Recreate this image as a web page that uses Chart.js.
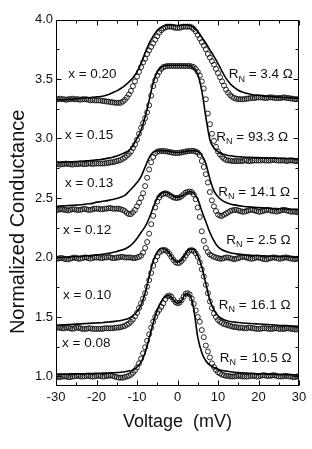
<!DOCTYPE html>
<html>
<head>
<meta charset="utf-8">
<script src="https://cdn.jsdelivr.net/npm/chart.js@4.4.0/dist/chart.umd.min.js"></script>
<style>
  html, body { margin: 0; padding: 0; background: #fff; }
  #wrap { width: 312px; height: 449px; }
</style>
</head>
<body>
<div id="wrap"><canvas id="chart" width="312" height="449"></canvas></div>
<script>
// Voltage grids (mV)
let voltsData = [
  -30, -29.5, -29, -28.5, -28, -27.5, -27, -26.5, -26, -25.5, -25, -24.5, -24, -23.5, -23, -22.5, -22, -21.5, -21, -20.5, -20,
  -19.5, -19, -18.5, -18, -17.5, -17, -16.5, -16, -15.5, -15,
  -14.5, -14, -13.5, -13, -12.5, -12, -11.5, -11, -10.5, -10,
  -9.5, -9, -8.5, -8, -7.5, -7, -6.5, -6, -5.5, -5,
  -4.5, -4, -3.5, -3, -2.5, -2, -1.5, -1, -0.5, 0,
  0.5, 1, 1.5, 2, 2.5, 3, 3.5, 4, 4.5, 5,
  5.5, 6, 6.5, 7, 7.5, 8, 8.5, 9, 9.5, 10,
  10.5, 11, 11.5, 12, 12.5, 13, 13.5, 14, 14.5, 15,
  15.5, 16, 16.5, 17, 17.5, 18, 18.5, 19, 19.5, 20,
  20.5, 21, 21.5, 22, 22.5, 23, 23.5, 24, 24.5, 25,
  25.5, 26, 26.5, 27, 27.5, 28, 28.5, 29, 29.5, 30
];
let voltsFit = [
  -30, -29, -28, -27, -26, -25, -24, -23, -22, -21,
  -20, -19, -18, -17, -16, -15, -14, -13, -12, -11,
  -10, -9, -8, -7, -6, -5, -4, -3, -2, -1,
  0, 1, 2, 3, 4, 5, 6, 7, 8, 9,
  10, 11, 12, 13, 14, 15, 16, 17, 18, 19,
  20, 21, 22, 23, 24, 25, 26, 27, 28, 29,
  30
];

// Measured conductance (circles)
let data020 = [
  3.33, 3.33, 3.335, 3.33, 3.33, 3.325, 3.33, 3.33, 3.335, 3.33, 3.33, 3.33, 3.325, 3.33, 3.33, 3.33, 3.325, 3.32, 3.325, 3.32, 3.32,
  3.32, 3.32, 3.315, 3.315, 3.31, 3.31, 3.305, 3.305, 3.30, 3.30,
  3.30, 3.30, 3.31, 3.325, 3.345, 3.37, 3.40, 3.44, 3.48, 3.52,
  3.56, 3.60, 3.64, 3.67, 3.71, 3.74, 3.77, 3.80, 3.83, 3.86,
  3.89, 3.91, 3.925, 3.935, 3.94, 3.94, 3.94, 3.935, 3.93, 3.93,
  3.93, 3.935, 3.94, 3.94, 3.94, 3.94, 3.935, 3.92, 3.90, 3.87,
  3.84, 3.81, 3.78, 3.75, 3.71, 3.68, 3.65, 3.62, 3.585, 3.55,
  3.515, 3.48, 3.445, 3.41, 3.385, 3.365, 3.35, 3.34, 3.335, 3.33,
  3.33, 3.33, 3.33, 3.335, 3.335, 3.34, 3.34, 3.34, 3.345, 3.345,
  3.345, 3.345, 3.34, 3.34, 3.345, 3.345, 3.345, 3.34, 3.34, 3.34,
  3.34, 3.345, 3.345, 3.34, 3.34, 3.335, 3.335, 3.33, 3.33, 3.33
];
let data015 = [
  2.785, 2.785, 2.78, 2.785, 2.785, 2.79, 2.785, 2.785, 2.78, 2.785, 2.785, 2.785, 2.79, 2.785, 2.785, 2.785, 2.79, 2.79, 2.785, 2.79, 2.79,
  2.79, 2.79, 2.79, 2.79, 2.795, 2.795, 2.80, 2.80, 2.805, 2.81,
  2.815, 2.82, 2.83, 2.84, 2.855, 2.87, 2.89, 2.92, 2.95, 2.99,
  3.04, 3.09, 3.13, 3.17, 3.22, 3.28, 3.36, 3.44, 3.49, 3.53,
  3.56, 3.585, 3.60, 3.605, 3.61, 3.61, 3.61, 3.61, 3.61, 3.61,
  3.61, 3.61, 3.61, 3.61, 3.61, 3.61, 3.605, 3.60, 3.585, 3.56,
  3.53, 3.48, 3.42, 3.33, 3.21, 3.12, 3.04, 2.98, 2.93, 2.89,
  2.865, 2.845, 2.83, 2.82, 2.815, 2.815, 2.81, 2.81, 2.81, 2.81,
  2.81, 2.81, 2.815, 2.815, 2.81, 2.81, 2.815, 2.815, 2.815, 2.815,
  2.815, 2.82, 2.815, 2.815, 2.815, 2.815, 2.82, 2.82, 2.815, 2.815,
  2.815, 2.815, 2.815, 2.81, 2.815, 2.815, 2.815, 2.81, 2.81, 2.81
];
let data013 = [
  2.40, 2.40, 2.405, 2.405, 2.40, 2.40, 2.395, 2.40, 2.405, 2.405, 2.40, 2.40, 2.40, 2.405, 2.41, 2.405, 2.40, 2.40, 2.405, 2.41, 2.41,
  2.41, 2.405, 2.405, 2.41, 2.41, 2.415, 2.415, 2.41, 2.41, 2.41,
  2.41, 2.405, 2.40, 2.39, 2.375, 2.365, 2.365, 2.38, 2.40, 2.43,
  2.46, 2.50, 2.54, 2.60, 2.67, 2.74, 2.80, 2.845, 2.875, 2.89,
  2.893, 2.895, 2.895, 2.893, 2.89, 2.887, 2.883, 2.88, 2.878, 2.878,
  2.88, 2.883, 2.887, 2.89, 2.893, 2.895, 2.897, 2.895, 2.89, 2.88,
  2.86, 2.81, 2.76, 2.70, 2.63, 2.55, 2.48, 2.43, 2.39, 2.36,
  2.35, 2.35, 2.36, 2.37, 2.38, 2.39, 2.395, 2.40, 2.40, 2.395,
  2.39, 2.385, 2.385, 2.39, 2.395, 2.40, 2.40, 2.395, 2.39, 2.385,
  2.385, 2.39, 2.395, 2.40, 2.40, 2.395, 2.39, 2.39, 2.385, 2.39,
  2.395, 2.40, 2.40, 2.395, 2.39, 2.385, 2.385, 2.385, 2.38, 2.385
];
let data012 = [
  1.99, 1.99, 1.995, 1.995, 1.99, 1.985, 1.985, 1.99, 1.995, 2.0, 1.995, 1.99, 1.99, 1.995, 2.0, 2.0, 1.995, 1.99, 1.995, 2.0, 2.0,
  2.0, 1.995, 1.995, 2.0, 2.0, 2.005, 2.0, 1.995, 1.995, 2.0,
  2.0, 2.005, 2.005, 2.0, 2.0, 2.0, 2.0, 1.995, 1.995, 2.0,
  2.005, 2.015, 2.04, 2.08, 2.13, 2.20, 2.28, 2.35, 2.42, 2.47,
  2.505, 2.525, 2.535, 2.54, 2.535, 2.525, 2.515, 2.505, 2.50, 2.50,
  2.505, 2.515, 2.53, 2.545, 2.55, 2.555, 2.55, 2.53, 2.49, 2.42,
  2.34, 2.22, 2.14, 2.08, 2.045, 2.025, 2.015, 2.005, 2.0, 1.995,
  1.99, 1.99, 1.995, 2.0, 2.0, 1.995, 1.99, 1.985, 1.99, 1.995,
  2.0, 2.005, 2.005, 2.0, 1.995, 1.99, 1.99, 1.995, 2.0, 2.0,
  1.995, 1.99, 1.985, 1.985, 1.99, 1.995, 2.0, 2.0, 1.995, 1.99,
  1.99, 1.995, 2.0, 2.0, 1.995, 1.99, 1.99, 1.985, 1.99, 1.99
];
let data010 = [
  1.415, 1.41, 1.41, 1.405, 1.405, 1.41, 1.41, 1.405, 1.40, 1.405, 1.41, 1.41, 1.405, 1.40, 1.40, 1.40, 1.405, 1.405, 1.40, 1.40, 1.40,
  1.40, 1.40, 1.40, 1.405, 1.405, 1.405, 1.405, 1.405, 1.41, 1.41,
  1.412, 1.415, 1.42, 1.425, 1.435, 1.445, 1.46, 1.48, 1.505, 1.535,
  1.575, 1.615, 1.655, 1.70, 1.755, 1.81, 1.87, 1.93, 1.975, 2.01,
  2.04, 2.055, 2.062, 2.062, 2.05, 2.03, 2.005, 1.98, 1.96, 1.952,
  1.955, 1.97, 1.99, 2.015, 2.04, 2.058, 2.062, 2.055, 2.035, 2.005,
  1.96, 1.90, 1.84, 1.77, 1.70, 1.63, 1.575, 1.53, 1.50, 1.475,
  1.46, 1.45, 1.44, 1.435, 1.43, 1.425, 1.42, 1.415, 1.415, 1.41,
  1.41, 1.41, 1.405, 1.405, 1.41, 1.41, 1.405, 1.405, 1.40, 1.40,
  1.40, 1.405, 1.405, 1.405, 1.40, 1.40, 1.40, 1.405, 1.405, 1.40,
  1.40, 1.40, 1.40, 1.405, 1.405, 1.40, 1.40, 1.395, 1.395, 1.40
];
let data008 = [
  1.0, 0.995, 0.995, 1.0, 1.0, 1.0, 0.995, 0.995, 1.0, 1.0, 1.005, 1.005, 1.0, 1.0, 1.0, 1.005, 1.005, 1.0, 1.0, 1.0, 1.005,
  1.005, 1.005, 1.0, 1.0, 1.005, 1.005, 1.01, 1.005, 1.0, 0.995,
  0.99, 0.99, 0.99, 0.995, 1.0, 1.005, 1.015, 1.03, 1.05, 1.075,
  1.11, 1.15, 1.195, 1.245, 1.30, 1.355, 1.41, 1.46, 1.50, 1.535,
  1.56, 1.585, 1.615, 1.65, 1.675, 1.68, 1.67, 1.645, 1.625, 1.615,
  1.62, 1.64, 1.67, 1.695, 1.70, 1.69, 1.655, 1.61, 1.555, 1.50,
  1.46, 1.39, 1.33, 1.26, 1.21, 1.16, 1.11, 1.08, 1.055, 1.035,
  1.025, 1.015, 1.01, 1.005, 1.005, 1.0, 1.0, 1.0, 1.005, 1.005,
  1.005, 1.0, 1.0, 1.0, 1.0, 1.005, 1.005, 1.005, 1.0, 1.0,
  1.005, 1.01, 1.01, 1.005, 1.005, 1.005, 1.01, 1.01, 1.005, 1.0,
  1.0, 1.0, 1.005, 1.005, 1.0, 1.0, 0.995, 0.995, 1.0, 1.0
];

// Theoretical fits (solid lines)
let fit020 = [
  3.325, 3.325, 3.325, 3.328, 3.33, 3.333, 3.336, 3.34, 3.343, 3.347,
  3.35, 3.353, 3.36, 3.37, 3.385, 3.40, 3.42, 3.445, 3.475, 3.51,
  3.56, 3.63, 3.72, 3.80, 3.86, 3.91, 3.935, 3.95, 3.955, 3.953,
  3.95, 3.953, 3.955, 3.95, 3.935, 3.90, 3.85, 3.80, 3.745, 3.69,
  3.63, 3.565, 3.505, 3.46, 3.43, 3.405, 3.39, 3.38, 3.372, 3.366,
  3.362, 3.358, 3.355, 3.352, 3.35, 3.348, 3.346, 3.344, 3.342, 3.34,
  3.338
];
let fit015 = [
  2.80, 2.80, 2.802, 2.803, 2.805, 2.807, 2.809, 2.811, 2.813, 2.816,
  2.82, 2.824, 2.829, 2.835, 2.843, 2.853, 2.865, 2.88, 2.90, 2.94,
  3.00, 3.07, 3.18, 3.32, 3.47, 3.56, 3.60, 3.612, 3.615, 3.615,
  3.615, 3.615, 3.615, 3.612, 3.59, 3.54, 3.40, 3.18, 2.99, 2.92,
  2.89, 2.872, 2.862, 2.855, 2.85, 2.847, 2.845, 2.843, 2.841, 2.84,
  2.839, 2.838, 2.837, 2.836, 2.835, 2.834, 2.833, 2.832, 2.831, 2.83,
  2.83
];
let fit013 = [
  2.43, 2.432, 2.434, 2.436, 2.438, 2.44, 2.443, 2.447, 2.451, 2.455,
  2.465, 2.469, 2.474, 2.48, 2.487, 2.496, 2.507, 2.522, 2.555, 2.59,
  2.63, 2.68, 2.76, 2.84, 2.885, 2.895, 2.897, 2.897, 2.892, 2.885,
  2.882, 2.885, 2.892, 2.897, 2.897, 2.893, 2.86, 2.79, 2.66, 2.56,
  2.51, 2.48, 2.462, 2.45, 2.442, 2.436, 2.431, 2.427, 2.424, 2.421,
  2.419, 2.417, 2.415, 2.413, 2.411, 2.41, 2.408, 2.407, 2.406, 2.405,
  2.404
];
let fit012 = [
  2.0, 2.0, 2.002, 2.004, 2.006, 2.008, 2.01, 2.012, 2.015, 2.018,
  2.022, 2.025, 2.03, 2.036, 2.042, 2.05, 2.06, 2.072, 2.09, 2.12,
  2.16, 2.21, 2.26, 2.33, 2.42, 2.50, 2.54, 2.55, 2.535, 2.515,
  2.505, 2.515, 2.535, 2.555, 2.54, 2.49, 2.39, 2.30, 2.21, 2.14,
  2.09, 2.065, 2.05, 2.04, 2.033, 2.028, 2.024, 2.021, 2.019, 2.017,
  2.015, 2.014, 2.013, 2.012, 2.011, 2.01, 2.009, 2.008, 2.007, 2.006,
  2.005
];
let fit010 = [
  1.43, 1.432, 1.434, 1.436, 1.438, 1.44, 1.442, 1.444, 1.446, 1.448,
  1.45, 1.452, 1.455, 1.458, 1.461, 1.465, 1.47, 1.478, 1.49, 1.51,
  1.545, 1.60, 1.70, 1.84, 1.97, 2.045, 2.078, 2.07, 2.035, 1.985,
  1.96, 1.98, 2.03, 2.07, 2.07, 2.015, 1.92, 1.78, 1.64, 1.56,
  1.51, 1.485, 1.47, 1.462, 1.457, 1.453, 1.45, 1.447, 1.445, 1.443,
  1.441, 1.439, 1.437, 1.435, 1.433, 1.431, 1.429, 1.427, 1.425, 1.423,
  1.42
];
let fit008 = [
  1.02, 1.02, 1.021, 1.021, 1.022, 1.022, 1.023, 1.023, 1.024, 1.025,
  1.026, 1.027, 1.028, 1.029, 1.031, 1.033, 1.036, 1.04, 1.046, 1.055,
  1.08, 1.12, 1.20, 1.32, 1.45, 1.56, 1.63, 1.675, 1.68, 1.64,
  1.615, 1.635, 1.695, 1.685, 1.57, 1.33, 1.20, 1.13, 1.095, 1.075,
  1.06, 1.05, 1.045, 1.04, 1.036, 1.033, 1.03, 1.028, 1.026, 1.024,
  1.022, 1.021, 1.02, 1.019, 1.018, 1.017, 1.016, 1.015, 1.015, 1.014,
  1.013
];

// Labels
let compositions = ['x = 0.20', 'x = 0.15', 'x = 0.13', 'x = 0.12', 'x = 0.10', 'x = 0.08'];
let resistances = ['3.4', '93.3', '14.1', '2.5', '16.1', '10.5'];
let xTicks = [-30, -20, -10, 0, 10, 20, 30];
let xMinor = [-25, -15, -5, 5, 15, 25];
let yTicks = [1.0, 1.5, 2.0, 2.5, 3.0, 3.5, 4.0];
let yMinor = [1.25, 1.75, 2.25, 2.75, 3.25, 3.75];
let yTitle = 'Normalized Conductance';

// Where the curve labels sit, in axis units (left label: left edge, RN label: right edge)
let compositionSpots = [[-27.0, 3.537], [-27.8, 3.031], [-27.8, 2.627], [-28.3, 2.231], [-28.3, 1.683], [-28.5, 1.279]];
let resistanceSpots = [[28.5, 3.537], [27.3, 3.014], [27.8, 2.551], [27.9, 2.147], [27.9, 1.599], [28.15, 1.152]];

let fontFamily = "'Liberation Sans', Arial, Helvetica, sans-serif";

let measured = [data020, data015, data013, data012, data010, data008];
let fits = [fit020, fit015, fit013, fit012, fit010, fit008];

function pairs(xs, ys) {
  return xs.map((v, i) => ({ x: v, y: ys[i] }));
}

let datasets = [];
// fits first so they are painted over the circles
fits.forEach(f => {
  datasets.push({
    data: pairs(voltsFit, f),
    showLine: true,
    borderColor: '#000',
    borderWidth: 1.6,
    pointRadius: 0,
    fill: false,
    cubicInterpolationMode: 'monotone'
  });
});
measured.forEach(m => {
  datasets.push({
    data: pairs(voltsData, m),
    showLine: false,
    pointStyle: 'circle',
    pointRadius: 2.5,
    pointBorderWidth: 0.9,
    borderColor: '#111',
    backgroundColor: 'rgba(0,0,0,0)'
  });
});

//==========================================
//  Frame, inward ticks and curve labels
//==========================================
let decorations = {
  id: 'decorations',
  afterDatasetsDraw(chart) {
    let ctx = chart.ctx;
    let a = chart.chartArea;
    let xs = chart.scales.x;
    let ys = chart.scales.y;
    ctx.save();
    ctx.strokeStyle = '#000';
    ctx.lineWidth = 1;
    let L = Math.round(a.left) + 0.5, R = Math.round(a.right) - 0.5;
    let T = Math.round(a.top) + 0.5, B = Math.round(a.bottom) - 0.5;
    ctx.strokeRect(L, T, R - L, B - T);

    ctx.beginPath();
    let xMarks = xTicks.map(v => [v, 5]).concat(xMinor.map(v => [v, 3]));
    xMarks.forEach(([v, len]) => {
      let px = Math.round(xs.getPixelForValue(v)) + 0.5;
      ctx.moveTo(px, B); ctx.lineTo(px, B - len);
      ctx.moveTo(px, T); ctx.lineTo(px, T + len);
    });
    let yMarks = yTicks.map(v => [v, 5]).concat(yMinor.map(v => [v, 3]));
    yMarks.forEach(([v, len]) => {
      let py = Math.round(ys.getPixelForValue(v)) + 0.5;
      ctx.moveTo(L, py); ctx.lineTo(L + len, py);
      ctx.moveTo(R, py); ctx.lineTo(R - len, py);
    });
    ctx.stroke();

    ctx.fillStyle = '#111';
    ctx.textBaseline = 'middle';
    ctx.font = '13.5px ' + fontFamily;
    ctx.textAlign = 'left';
    compositions.forEach((t, i) => {
      let [v, g] = compositionSpots[i];
      ctx.fillText(t, xs.getPixelForValue(v), ys.getPixelForValue(g));
    });

    resistances.forEach((r, i) => {
      let [v, g] = resistanceSpots[i];
      let right = xs.getPixelForValue(v);
      let y = ys.getPixelForValue(g);
      let tail = ' = ' + r + ' \u03A9';
      ctx.font = '13.5px ' + fontFamily;
      let wR = ctx.measureText('R').width;
      let wTail = ctx.measureText(tail).width;
      ctx.font = '9px ' + fontFamily;
      let wN = ctx.measureText('N').width;
      let x0 = right - (wR + wN + wTail);
      ctx.font = '13.5px ' + fontFamily;
      ctx.fillText('R', x0, y);
      ctx.fillText(tail, x0 + wR + wN, y);
      ctx.font = '9px ' + fontFamily;
      ctx.fillText('N', x0 + wR, y + 4.5);
    });

    // y axis title, a little below the middle of the plot like the original
    ctx.save();
    ctx.translate(18, ys.getPixelForValue(2.3));
    ctx.rotate(-Math.PI / 2);
    ctx.textAlign = 'center';
    ctx.font = '20px ' + fontFamily;
    ctx.fillText(yTitle, 0, 0);
    ctx.restore();

    ctx.restore();
  }
};

let ctx = document.getElementById('chart');
let chart = new Chart(ctx, {
  type: 'scatter',
  data: { datasets: datasets },
  options: {
    responsive: false,
    animation: false,
    devicePixelRatio: 1,
    layout: { padding: { left: 0, right: 13, top: 19.5, bottom: 0 } },
    plugins: { legend: { display: false }, tooltip: { enabled: false } },
    scales: {
      x: {
        type: 'linear',
        min: -30,
        max: 30,
        grid: { display: false, drawTicks: false },
        border: { display: false },
        afterBuildTicks: s => { s.ticks = xTicks.map(v => ({ value: v })); },
        afterFit: s => { s.height = 63; },
        ticks: { font: { family: fontFamily, size: 13 }, color: '#111', padding: 4, maxRotation: 0 },
        title: {
          display: true,
          text: 'Voltage  (mV)',
          font: { family: fontFamily, size: 18 },
          color: '#111',
          padding: { top: 0, bottom: 16 }
        }
      },
      y: {
        type: 'linear',
        min: 0.92,
        max: 4.0,
        grid: { display: false, drawTicks: false },
        border: { display: false },
        afterBuildTicks: s => { s.ticks = yTicks.map(v => ({ value: v })); },
        afterFit: s => { s.width = 56; },
        ticks: {
          font: { family: fontFamily, size: 13 },
          color: '#111',
          padding: 3,
          callback: v => v.toFixed(1)
        },
        title: { display: false }
      }
    }
  },
  plugins: [decorations]
});
</script>
</body>
</html>
